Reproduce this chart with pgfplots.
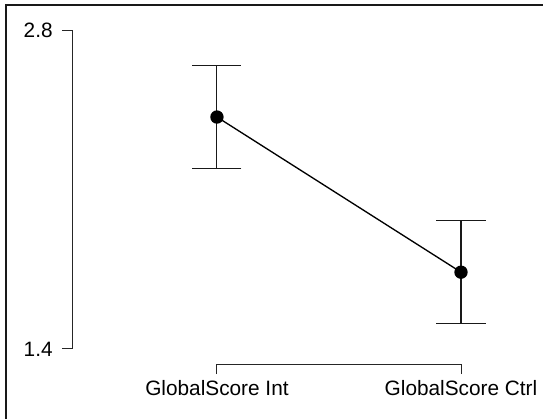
\documentclass[border=0pt]{standalone}
\usepackage{pgfplots}
\pgfplotsset{compat=1.18}
\usepackage{fontspec}
\setmainfont{Liberation Sans}
\begin{document}
\begin{tikzpicture}
\useasboundingbox (-54pt,-40.5pt) rectangle (353.25pt,273pt);
\begin{axis}[
  at={(0,0)}, anchor=south west,
  scale only axis, width=291.75pt, height=250.5pt,
  xmin=-0.594, xmax=1, ymin=1.334, ymax=2.8,
  axis x line*=bottom, axis y line*=left,
  axis line style={draw=none},
  clip=false,
  xtick={0,1}, xticklabels={GlobalScore Int, GlobalScore Ctrl},
  ytick={1.4,2.8}, yticklabels={1.4,2.8},
  tick align=outside, major tick length=7.5pt,
  tick style={black!85, line width=0.7pt},
  ticklabel style={font=\fontsize{15.6}{18}\selectfont},
  /pgf/number format/assume math mode=true,
  xticklabel style={yshift=-1.2pt},
  yticklabel style={xshift=-3.5pt},
]
\draw[black!85, line width=0.7pt] (axis cs:-0.594,1.4) -- (axis cs:-0.594,2.8);
\draw[black!85, line width=0.7pt] (axis cs:0,1.334) -- (axis cs:1,1.334);
\addplot[black, line width=1pt, mark=*, mark size=4.5pt,
  error bars/.cd, y dir=both, y explicit,
  error bar style={line width=0.8pt, black!90},
  error mark options={rotate=90, mark size=18.4pt, line width=0.8pt, black!90}]
  coordinates {(0,2.418) +- (0,0.225) (1,1.737) +- (0,0.225)};
\end{axis}
\draw[black!90, line width=1.5pt] (-49.5pt,-41pt) -- (-49.5pt,269.25pt) -- (354pt,269.25pt);
\end{tikzpicture}
\end{document}
